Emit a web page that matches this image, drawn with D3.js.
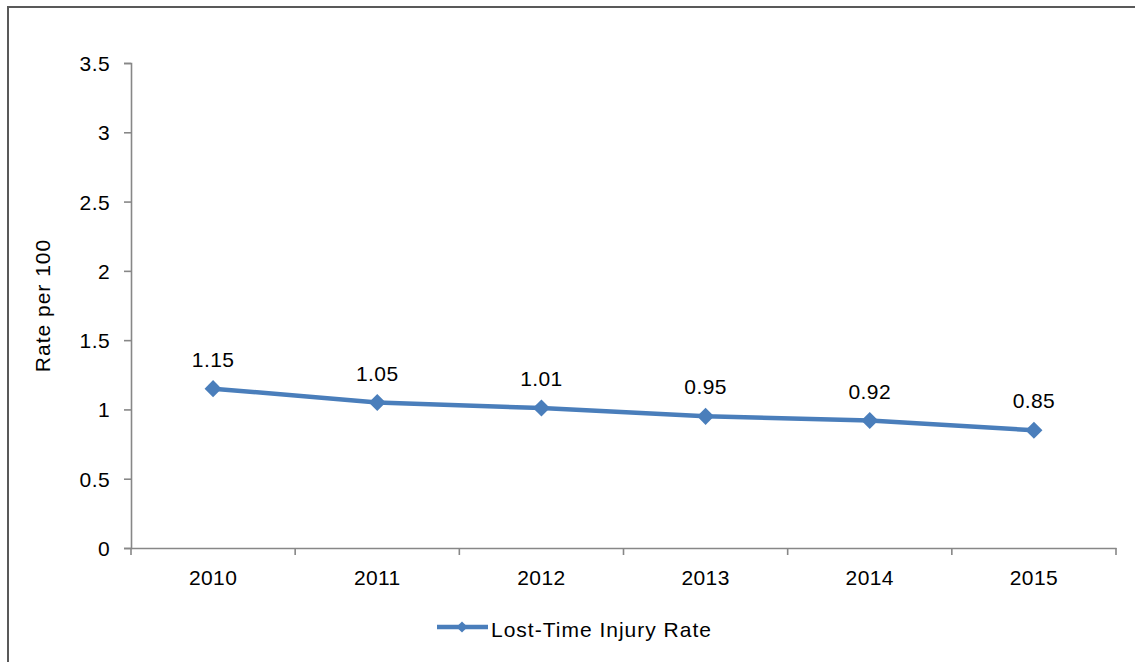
<!DOCTYPE html>
<html><head><meta charset="utf-8">
<script src="https://cdn.jsdelivr.net/npm/d3@7"></script>
<style>body{margin:0;background:#fff}svg{display:block}text{font-family:"Liberation Sans",Arial,sans-serif;fill:#000}</style>
</head><body><svg id="c" width="1135" height="662"></svg>
<script>
const years = ["2010","2011","2012","2013","2014","2015"];
const rates = [1.15,1.05,1.01,0.95,0.92,0.85];
const yTicks = [0,0.5,1,1.5,2,2.5,3,3.5];
const seriesName = "Lost-Time Injury Rate";
const yTitle = "Rate per 100";

const svg = d3.select("#c");
const W=1135,H=662;
svg.append("rect").attr("width",W).attr("height",H).attr("fill","#fff");
// border
svg.append("line").attr("x1",7).attr("x2",W).attr("y1",7).attr("y2",7).attr("stroke","#595959").attr("stroke-width",2);
svg.append("line").attr("x1",8).attr("x2",8).attr("y1",6).attr("y2",H).attr("stroke","#595959").attr("stroke-width",2);

const L=131,R=1116,T=63,B=548;
const x = d3.scaleBand().domain(years).range([L,R]);
const y = d3.scaleLinear().domain([0,3.5]).range([B,T]);
const axisColor="#878787";
const numFont = {size:21, ls:0.4};

// y axis
const ya = svg.append("g").attr("transform",`translate(${L},0)`)
  .call(d3.axisLeft(y).tickValues(yTicks).tickSize(7).tickPadding(14).tickFormat(d=>String(d)));
ya.select(".domain").attr("stroke",axisColor).attr("stroke-width",1.6);
ya.selectAll(".tick line").attr("stroke",axisColor).attr("stroke-width",1.6);
ya.selectAll(".tick text").attr("font-size",numFont.size).attr("letter-spacing",numFont.ls)
  .attr("font-family","Liberation Sans, Arial, sans-serif").attr("fill","#000").attr("dy","0.36em");

// x axis
const xa = svg.append("g").attr("transform",`translate(0,${B})`)
  .call(d3.axisBottom(x).tickSize(0));
xa.select(".domain").attr("stroke",axisColor).attr("stroke-width",1.6);
xa.selectAll(".tick text").attr("font-size",numFont.size).attr("letter-spacing",numFont.ls)
  .attr("font-family","Liberation Sans, Arial, sans-serif").attr("fill","#000")
  .attr("y",37).attr("dy",0);
const bounds = years.map(d=>x(d)).concat([R]);
svg.append("g").selectAll("line").data(bounds).join("line")
  .attr("x1",d=>d).attr("x2",d=>d).attr("y1",B).attr("y2",B+7)
  .attr("stroke",axisColor).attr("stroke-width",1.6);

// y title
svg.append("text").attr("transform",`translate(50,${(T+B)/2}) rotate(-90)`)
  .attr("text-anchor","middle").attr("font-size",21).attr("letter-spacing",1).text(yTitle);

const col="#4A7EBB";
const cx = d=>x(d)+x.bandwidth()/2;
const line = d3.line().x((d,i)=>cx(years[i])).y(d=>y(d));
svg.append("path").datum(rates).attr("d",line).attr("fill","none").attr("stroke",col).attr("stroke-width",4.5).attr("stroke-linejoin","round");
const diamond = d3.symbol().type(d3.symbolDiamond2).size(185);
svg.append("g").selectAll("path").data(rates).join("path")
  .attr("d",diamond).attr("transform",(d,i)=>`translate(${cx(years[i])},${y(d)})`).attr("fill",col);
svg.append("g").selectAll("text").data(rates).join("text")
  .attr("x",(d,i)=>cx(years[i])).attr("y",d=>y(d)-22)
  .attr("text-anchor","middle").attr("font-size",numFont.size).attr("letter-spacing",numFont.ls).text(d=>d.toFixed(2));

// legend
const ly=627;
svg.append("line").attr("x1",437).attr("x2",488).attr("y1",ly).attr("y2",ly).attr("stroke",col).attr("stroke-width",4.5);
svg.append("path").attr("d",d3.symbol().type(d3.symbolDiamond2).size(80)).attr("transform",`translate(462,${ly})`).attr("fill",col);
svg.append("text").attr("x",491).attr("y",ly+10).attr("font-size",21).attr("letter-spacing",1).text(seriesName);
</script></body></html>
